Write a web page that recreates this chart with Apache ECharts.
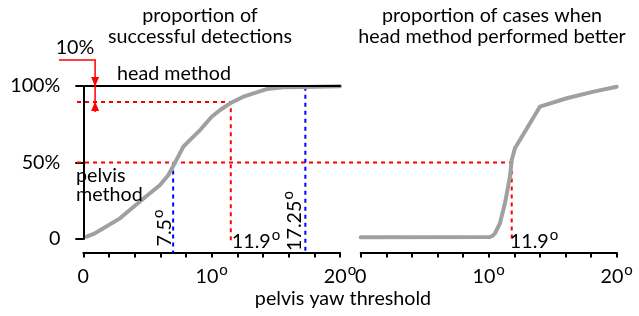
<!DOCTYPE html>
<html><head><meta charset="utf-8">
<script src="https://cdn.jsdelivr.net/npm/echarts@6/dist/echarts.min.js"></script>
<style>html,body{margin:0;padding:0;background:#fff}#c{width:639px;height:316px}</style>
</head><body><div id="c"></div>
<script>
// ---- data ----
const xTickValues = [0, 10, 20];
const yTickLabels = {0: '0', 50: '50%', 100: '100%'};
// left panel: proportion of successful detections, pelvis method
const pelvisX = [0.27, 0.91, 2.86, 4.55, 5.98, 6.63, 7.15, 7.79, 8.18, 9.10, 10.0, 10.66, 11.44, 12.47, 14.29, 15.59, 17.28, 20.0];
const pelvisY = [1.5, 3.7, 13.5, 25.5, 35.3, 41.8, 49.9, 60.3, 63.6, 71.2, 79.9, 84.3, 88.7, 93.0, 98.0, 99.2, 99.3, 99.8];
// head method (constant 100%)
const headX = [0.13, 20];
const headY = [100, 100];
// right panel: proportion of cases when head method performed better
const betterX = [0, 10.1, 10.3, 10.49, 10.88, 11.27, 11.66, 11.8, 12.05, 14.0, 16.1, 18.2, 20.0];
const betterY = [1.2, 1.3, 2.1, 3.7, 10.3, 23.3, 40.7, 51.6, 59.3, 86.5, 92, 96.3, 99.5];
// threshold annotations (positions as drawn / labels as printed)
const thrPelvis50 = 7.0,  lblPelvis50 = '7.5';
const thrPelvis90 = 11.49, lblPelvis90 = '11.9';
const thrPelvis99 = 17.3, lblPelvis99 = '17.25';
const thrBetter50 = 11.8, lblBetter50 = '11.9';
const level90 = 89.5, level50 = 50, level100 = 100;
const arrowX = 0.92, arrowTopY = 117, arrowBottomY = 83, arrowLeftX = -1.9;
const guideLeftX = -0.49, guideFloorRed = -2.6, guideFloorBlue = -8.8, guideFloorRight = -1.8;
const titleLeft = ['proportion of', 'successful detections'];
const titleRight = ['proportion of cases when', 'head method performed better'];
const xAxisTitle = 'pelvis yaw threshold';

// ---- chart ----
const FONT = 'Lato';
const FS = 19.7;
const GRAY = '#a0a0a0';
const zip = (a, b) => a.map((v, i) => [v, b[i]]);
const supRich = {
  n: {fontSize: FS, fontFamily: FONT, color: '#000', lineHeight: 24, verticalAlign: 'bottom'},
  s: {fontSize: 15, fontFamily: FONT, color: '#000', lineHeight: 9, verticalAlign: 'top', padding: [0, 0, 0, 1]}
};
const deg = t => '{n|' + t + '}{s|o}';

function xAxisCfg(gi) {
  return {
    type: 'value', gridIndex: gi, min: 0, max: 20, interval: 2, offset: 13.5,
    axisLine: {show: true, onZero: false, lineStyle: {color: '#000', width: 2}},
    axisTick: {show: true, length: 5, lineStyle: {color: '#000', width: 2}},
    splitLine: {show: false},
    axisLabel: {
      margin: 10, rich: supRich,
      formatter: v => xTickValues.includes(v) ? (v === 0 ? '{n|0}' : deg(v)) : ''
    }
  };
}
function curve(data, gi, color, width, z) {
  return {type: 'line', xAxisIndex: gi, yAxisIndex: gi, data: data, symbol: 'none', clip: false,
    silent: true, animation: false, z: z, lineStyle: {color: color, width: width, cap: 'round', join: 'round'}};
}

const chart = echarts.init(document.getElementById('c'), null, {renderer: 'canvas'});
chart.setOption({
  animation: false,
  grid: [
    {left: 83.3, top: 86, width: 256.7, height: 153},
    {left: 360.7, top: 86, width: 256, height: 153}
  ],
  xAxis: [xAxisCfg(0), xAxisCfg(1)],
  yAxis: [
    {type: 'value', gridIndex: 0, min: 0, max: 100, interval: 50, offset: 10,
      axisLine: {show: true, lineStyle: {color: '#000', width: 2}},
      axisTick: {show: true, length: 8, lineStyle: {color: '#000', width: 2}},
      splitLine: {show: false},
      axisLabel: {margin: 13, fontSize: FS, fontFamily: FONT, color: '#000', formatter: v => yTickLabels[v]}},
    {type: 'value', gridIndex: 1, min: 0, max: 100, show: false}
  ],
  series: [
    curve(zip(pelvisX, pelvisY), 0, GRAY, 4, 3),
    curve(zip(headX, headY), 0, '#000', 2, 4),
    curve(zip(betterX, betterY), 1, GRAY, 4, 3)
  ]
});

// annotations placed through the chart's own coordinate conversion
const P = (gi, x, y) => chart.convertToPixel({gridIndex: gi}, [x, y]);
const dashLine = (pts, color) => ({type: 'polyline', z: 2, silent: true,
  shape: {points: pts}, style: {stroke: color, lineWidth: 2, lineDash: [4, 4], fill: null}});
const RED = '#ff0000', BLUE = '#0000ff';
const a100 = P(0, arrowX, level100), a90 = P(0, arrowX, level90);
const txt = (x, y, text, extra) => Object.assign({type: 'text', x: x, y: y, z: 10,
  style: Object.assign({text: text, fontSize: FS, fontFamily: FONT, fill: '#000'}, extra || {})});
const degTxt = (x, y, t, rot) => ({type: 'text', x: x, y: y, z: 10, rotation: rot || 0,
  style: {text: deg(t), rich: supRich, align: 'center', verticalAlign: 'middle'}});

chart.setOption({
  graphic: [
    dashLine([P(0, guideLeftX, level50), P(1, thrBetter50, level50)], RED),
    dashLine([P(0, guideLeftX, level90), P(0, thrPelvis90, level90), P(0, thrPelvis90, guideFloorRed)], RED),
    dashLine([P(1, thrBetter50, level50), P(1, thrBetter50, guideFloorRight)], RED),
    dashLine([P(0, thrPelvis50, level50), P(0, thrPelvis50, guideFloorBlue)], BLUE),
    dashLine([P(0, thrPelvis99, 99.5), P(0, thrPelvis99, guideFloorBlue)], BLUE),
    // 10% arrow
    {type: 'polyline', z: 6, silent: true,
      shape: {points: [P(0, arrowLeftX, arrowTopY), P(0, arrowX, arrowTopY), P(0, arrowX, arrowBottomY)]},
      style: {stroke: RED, lineWidth: 1.5, fill: null}},
    {type: 'polygon', z: 6, silent: true,
      shape: {points: [[a100[0], a100[1] + 0.5], [a100[0] - 4, a100[1] - 9], [a100[0] + 4, a100[1] - 9]]},
      style: {fill: RED}},
    {type: 'polygon', z: 6, silent: true,
      shape: {points: [[a90[0], a90[1] - 0.5], [a90[0] - 4, a90[1] + 9], [a90[0] + 4, a90[1] + 9]]},
      style: {fill: RED}},
    // texts
    txt(200, 5, titleLeft.join('\n'), {align: 'center', lineHeight: 21}),
    txt(492, 5, titleRight.join('\n'), {align: 'center', lineHeight: 21}),
    txt(343, 299, xAxisTitle, {align: 'center', verticalAlign: 'middle'}),
    txt(174, 74, 'head method', {align: 'center', verticalAlign: 'middle'}),
    txt(76, 166, 'pelvis\nmethod', {align: 'left', lineHeight: 19}),
    txt(75, 48, '10%', {align: 'center', verticalAlign: 'middle'}),
    degTxt(256, 240, lblPelvis90),
    degTxt(534, 240, lblBetter50),
    degTxt(163, 228, lblPelvis50, Math.PI / 2),
    degTxt(293, 221, lblPelvis99, Math.PI / 2)
  ]
});
</script></body></html>
